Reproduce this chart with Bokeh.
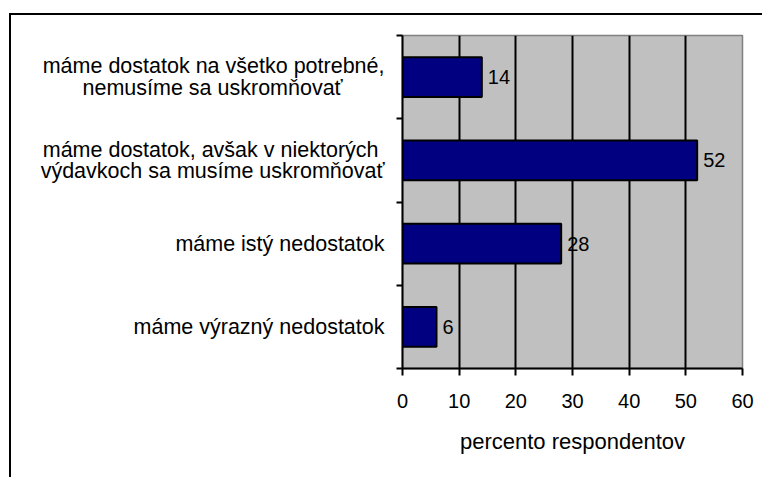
from bokeh.plotting import figure
from bokeh.models import Range1d, FixedTicker, ColumnDataSource
from bokeh.core.properties import value
from bokeh.embed import file_html
from bokeh.resources import INLINE

# ---- data ----
categories = [
    "máme dostatok na všetko potrebné,\nnemusíme sa uskromňovať",
    "máme dostatok, avšak v niektorých\nvýdavkoch sa musíme uskromňovať",
    "máme istý nedostatok",
    "máme výrazný nedostatok",
]
values = [14, 52, 28, 6]
x_ticks = [0, 10, 20, 30, 40, 50, 60]
x_label = "percento respondentov"

FONT = "Liberation Sans"
NB = "\u00a0"
n = len(categories)
ys = [n - i - 0.5 for i in range(n)]

# right-aligned label blocks whose lines are centred (pad short lines)
pad = [[0, 7], [1, 0], [0], [0]]
label_text = {}
for cat, yc, pd in zip(categories, ys, pad):
    lines = cat.split("\n")
    label_text[yc] = "\n".join(ln + NB * k for ln, k in zip(lines, pd))

p = figure(width=762, height=477, output_backend="svg", toolbar_location=None,
           x_range=Range1d(0, 60), y_range=Range1d(0, n),
           min_border_left=402, min_border_right=20, min_border_top=35, min_border_bottom=109)
p.background_fill_color = "#C0C0C0"
p.border_fill_color = None
p.outline_line_color = "#808080"
p.outline_line_width = 1.5
# outer chart border (left and top edges visible, rest beyond the picture)
p.styles = {
    "background": "linear-gradient(#000,#000) 9px 13px / 2px 100% no-repeat, "
                  "linear-gradient(#000,#000) 9px 13px / 100% 2px no-repeat, white"
}

# grid
p.ygrid.visible = False
p.xgrid.ticker = FixedTicker(ticks=x_ticks[1:-1])
p.xgrid.grid_line_color = "black"
p.xgrid.grid_line_width = 2

# x axis
xa = p.xaxis[0]
xa.ticker = FixedTicker(ticks=x_ticks)
xa.axis_line_color = "black"
xa.axis_line_width = 2
xa.major_tick_line_width = 2
xa.major_tick_out = 7
xa.major_tick_in = 0
xa.minor_tick_line_color = None
xa.major_label_text_font = FONT
xa.major_label_text_font_size = "20px"
xa.major_label_text_color = "black"
xa.major_label_standoff = 18
xa.axis_label = x_label
xa.axis_label_text_font = FONT
xa.axis_label_text_font_size = "22px"
xa.axis_label_text_font_style = "normal"
xa.axis_label_text_color = "black"
xa.axis_label_standoff = 18

# y axis: category labels at centres, tick marks between categories
ya = p.yaxis[0]
ya.ticker = FixedTicker(ticks=ys, minor_ticks=list(range(n + 1)))
ya.axis_line_color = "black"
ya.axis_line_width = 2
ya.major_tick_line_color = None
ya.major_tick_out = 6
ya.major_tick_in = 0
ya.minor_tick_line_color = "black"
ya.minor_tick_line_width = 2
ya.minor_tick_out = 6
ya.minor_tick_in = 0
ya.major_label_overrides = label_text
ya.major_label_text_font = FONT
ya.major_label_text_font_size = "21.5px"
ya.major_label_text_color = "black"
ya.major_label_text_line_height = 0.9
ya.major_label_standoff = 12

# bars
src = ColumnDataSource(dict(y=ys, v=values, t=[str(v) for v in values]))
p.hbar(y="y", left=0, right="v", height=0.48, source=src,
       fill_color="#000080", line_color="black", line_width=2)
p.text(x="v", y="y", text="t", source=src, x_offset=6,
       text_align="left", text_baseline="middle",
       text_font=value(FONT), text_font_size="20px", text_color="black")

open("out.html", "w").write(file_html(p, INLINE))
